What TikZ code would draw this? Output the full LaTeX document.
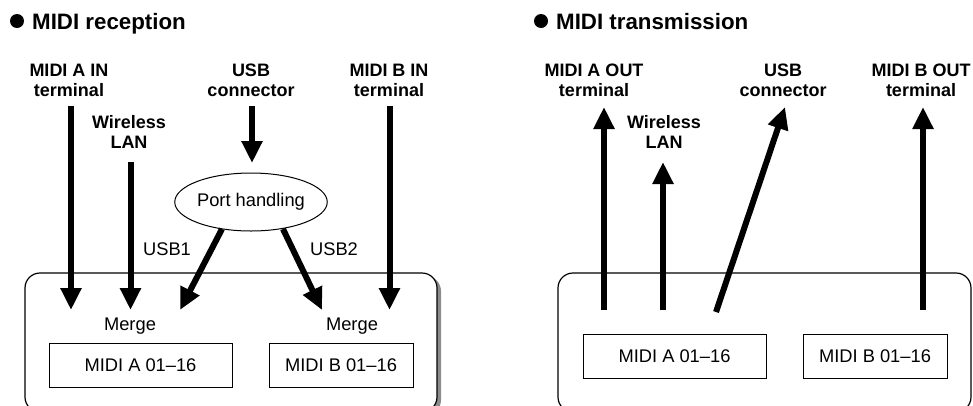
\documentclass[tikz,border=0pt]{standalone}
\usepackage{fontspec}
\setmainfont{Liberation Sans}
\usetikzlibrary{arrows.meta,shapes.geometric}
\begin{document}
\begin{tikzpicture}[x=1pt,y=-1pt,
  lbl/.style={font=\fontsize{18}{20}\selectfont\bfseries, align=center, inner sep=0pt, anchor=north},
  txt/.style={font=\fontsize{18.3}{20}\selectfont, inner sep=0pt},
  ttl/.style={font=\fontsize{22.3}{24}\selectfont\bfseries, anchor=base west, inner sep=0pt},
  dot/.style={circle, fill=black, minimum size=14pt, inner sep=0pt},
  chan/.style={draw, line width=1pt, txt, minimum height=44pt},
  flow/.style={line width=6pt, -{Triangle[width=20pt,length=22pt]}},
  frame/.style={draw, line width=1.2pt, rounded corners=15pt, fill=white},
  shadow/.style={fill=black!45, rounded corners=15pt}]
\useasboundingbox (0,0) rectangle (973,405);

% ---------------- MIDI reception ----------------
\node[dot] (bulR) at (17,21) {};
\node[ttl] (titR) at (32,29.5) {MIDI reception};

\fill[shadow] (28,276) rectangle (441,415);
\path[frame] (25,273) rectangle (437,412);

\node[lbl] (ainL) at (69,64) {MIDI A IN\\terminal};
\node[lbl] (usbL) at (251,64) {USB\\connector};
\node[lbl] (binL) at (389,64) {MIDI B IN\\terminal};
\node[lbl] (wlanL) at (129,115) {Wireless\\LAN};

\node[ellipse, draw, line width=1pt, minimum width=132pt, minimum height=58pt, inner sep=0pt, txt] (port) at (251,202) {Port handling};

\node[txt, anchor=base] (usb1) at (167,255) {USB1};
\node[txt, anchor=base] (usb2) at (334,255) {USB2};
\node[txt, anchor=base] (mergeA) at (130,330) {Merge};
\node[txt, anchor=base] (mergeB) at (352,330) {Merge};

\node[chan, minimum width=183pt] (chA) at (140.5,365) {MIDI A 01–16};
\node[chan, minimum width=144pt] (chB) at (341,365) {MIDI B 01–16};

\coordinate (a1) at (71,106);   \coordinate (a2) at (71,310);
\coordinate (w1) at (130.5,162);\coordinate (w2) at (130.5,310);
\coordinate (u1) at (252,106);  \coordinate (u2) at (252,163);
\coordinate (b1) at (389.5,106);\coordinate (b2) at (389.5,310);
\coordinate (p1) at (222,229);  \coordinate (p2) at (180,310);
\coordinate (q1) at (283,229);  \coordinate (q2) at (322,310);

\draw[flow] (a1) -- (a2);
\draw[flow] (w1) -- (w2);
\draw[flow] (u1) -- (u2);
\draw[flow] (b1) -- (b2);
\draw[flow] (p1) -- (p2);
\draw[flow] (q1) -- (q2);

% ---------------- MIDI transmission ----------------
\node[dot] (bulT) at (541,21) {};
\node[ttl] (titT) at (556,29.5) {MIDI transmission};

\path[frame] (558,273) rectangle (971,412);

\node[lbl] (aoutL) at (594,64) {MIDI A OUT\\terminal};
\node[lbl] (usbT) at (783,64) {USB\\connector};
\node[lbl] (boutL) at (921,64) {MIDI B OUT\\terminal};
\node[lbl] (wlanT) at (664,115) {Wireless\\LAN};

\node[chan, minimum width=183pt] (chTA) at (674.5,356) {MIDI A 01–16};
\node[chan, minimum width=144pt] (chTB) at (875,356) {MIDI B 01–16};

\coordinate (ta1) at (604,310); \coordinate (ta2) at (604,107);
\coordinate (tw1) at (663,310); \coordinate (tw2) at (663,162);
\coordinate (tu1) at (716,312); \coordinate (tu2) at (785,107);
\coordinate (tb1) at (923,310); \coordinate (tb2) at (923,107);

\draw[flow] (ta1) -- (ta2);
\draw[flow] (tw1) -- (tw2);
\draw[flow] (tu1) -- (tu2);
\draw[flow] (tb1) -- (tb2);
\end{tikzpicture}
\end{document}
